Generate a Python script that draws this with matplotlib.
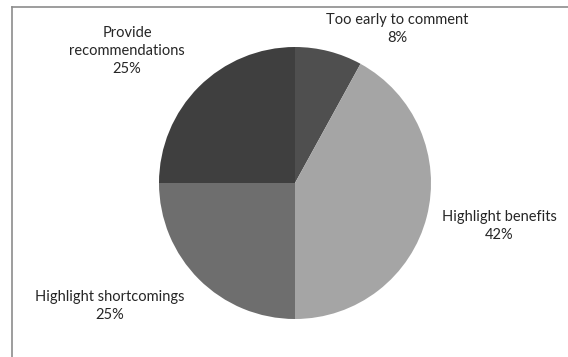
import matplotlib.pyplot as plt

categories = ['Too early to comment', 'Highlight benefits',
              'Highlight shortcomings', 'Provide\nrecommendations']
shares = [8, 42, 25, 25]
colors = ['#4f4f4f', '#a5a5a5', '#6e6e6e', '#3f3f3f']

# label anchors in pixel coordinates (y measured from the bottom)
label_pos = [(397, 328), (499, 131), (110, 51), (127, 306)]

W, H = 568, 357
fig = plt.figure(figsize=(W / 100, H / 100), dpi=100)
ax = fig.add_axes([0, 0, 1, 1])

ax.pie(shares, colors=colors, startangle=90, counterclock=False,
       center=(295, 174), radius=136, frame=True,
       wedgeprops={'linewidth': 0})

for name, pct, (x, y) in zip(categories, shares, label_pos):
    ax.text(x, y, f'{name}\n{pct}%', ha='center', va='center',
            fontsize=10.5, family='Lato', color='#262626', linespacing=1.35)

# chart area border: only the top and left edges show
ax.plot([11.5, W], [H - 7, H - 7], color='#8c8c8c', lw=1.2)
ax.plot([11.5, 11.5], [0, H - 7], color='#8c8c8c', lw=1.2)

ax.set_xlim(0, W)
ax.set_ylim(0, H)
ax.set_aspect('equal')
ax.axis('off')

fig.savefig('out.png', dpi=100)
